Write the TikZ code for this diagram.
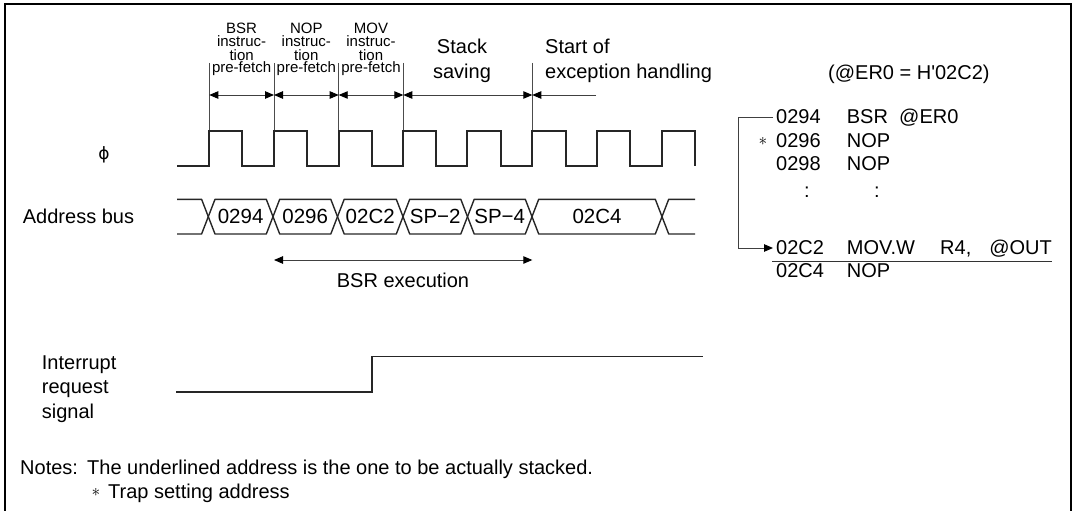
\documentclass[tikz,border=0pt]{standalone}
\usepackage{fontspec}
\setmainfont{Liberation Sans}
\newfontfamily\phifont{DejaVu Sans}
\usetikzlibrary{arrows.meta}
\begin{document}
\begin{tikzpicture}[x=1pt,y=-1pt,
  lbl/.style={inner sep=0pt,font=\fontsize{20}{24}\selectfont},
  sml/.style={inner sep=0pt,font=\fontsize{15}{13}\selectfont},
  astr/.style={inner sep=0pt,font=\fontsize{19}{20}\selectfont},
  wave/.style={line width=1.8pt,black!85,line join=miter},
  bus/.style={line width=1.4pt,black!85,line join=round},
  markline/.style={line width=0.9pt,black!70},
  dimarrow/.style={line width=0.9pt,black!75,{Triangle[length=9pt,width=7.5pt,color=black]}-{Triangle[length=9pt,width=7.5pt,color=black]}},
  onearrow/.style={line width=0.9pt,black!75,-{Triangle[length=9pt,width=7.5pt,color=black]}},
]
\useasboundingbox (0,0) rectangle (1074,511);
% frame
\draw[line width=2.2pt] (5,511) -- (5,4.3) -- (1070.8,4.3) -- (1070.8,511);

% marker coordinates
\coordinate (t1) at (209.3,63); \coordinate (b1) at (209.3,131);
\coordinate (t2) at (274,63);   \coordinate (b2) at (274,131);
\coordinate (t3) at (338.7,63); \coordinate (b3) at (338.7,131);
\coordinate (t4) at (403.3,63); \coordinate (b4) at (403.3,131);
\coordinate (t5) at (532.3,63); \coordinate (b5) at (532.3,131);
\foreach \i in {1,...,5} {\draw[markline] (t\i) -- (b\i);}
\coordinate (a1) at (209.3,95);
\coordinate (a2) at (274,95);
\coordinate (a3) at (338.7,95);
\coordinate (a4) at (403.3,95);
\coordinate (a5) at (532.3,95);
\coordinate (a6) at (596,95);
\draw[dimarrow] (a1) -- (a2);
\draw[dimarrow] (a2) -- (a3);
\draw[dimarrow] (a3) -- (a4);
\draw[dimarrow] (a4) -- (a5);
\draw[onearrow] (a6) -- (a5);

% small labels
\node[sml,anchor=base] (l1a) at (241.6,34) {BSR};
\node[sml,anchor=base] (l1b) at (241.6,47) {instruc-};
\node[sml,anchor=base] (l1c) at (241.6,60) {tion};
\node[sml,anchor=base] (l1d) at (241.6,73) {pre-fetch};
\node[sml,anchor=base] (l2a) at (306.3,34) {NOP};
\node[sml,anchor=base] (l2b) at (306.3,47) {instruc-};
\node[sml,anchor=base] (l2c) at (306.3,60) {tion};
\node[sml,anchor=base] (l2d) at (306.3,73) {pre-fetch};
\node[sml,anchor=base] (l3a) at (371,34) {MOV};
\node[sml,anchor=base] (l3b) at (371,47) {instruc-};
\node[sml,anchor=base] (l3c) at (371,60) {tion};
\node[sml,anchor=base] (l3d) at (371,73) {pre-fetch};
\node[lbl,anchor=base] (st1) at (462,54) {Stack};
\node[lbl,anchor=base] (st2) at (462,79) {saving};
\node[lbl,anchor=base west] (ex1) at (545,54) {Start of};
\node[lbl,anchor=base west] (ex2) at (545,79) {exception handling};
\node[lbl,anchor=base west] (er0) at (828,80) {(@ER0 = H\textquotesingle 02C2)};

% clock
\node[inner sep=0pt,font=\phifont\fontsize{17}{18}\selectfont,anchor=center] (phi) at (104,155) {ϕ};
\draw[wave] (177,165.7) -- (209.3,165.7) -- (209.3,131) -- (242.3,131) -- (242.3,165.7)
  -- (274,165.7) -- (274,131) -- (306.7,131) -- (306.7,165.7)
  -- (338.7,165.7) -- (338.7,131) -- (371.7,131) -- (371.7,165.7)
  -- (403.3,165.7) -- (403.3,131) -- (436,131) -- (436,165.7)
  -- (467.3,165.7) -- (467.3,131) -- (500.7,131) -- (500.7,165.7)
  -- (532.3,165.7) -- (532.3,131) -- (566,131) -- (566,165.7)
  -- (596.7,165.7) -- (596.7,131) -- (630,131) -- (630,165.7)
  -- (661.7,165.7) -- (661.7,131) -- (695,131) -- (695,165.7);

% address bus
\node[lbl,anchor=base west] (ab) at (22.7,223.5) {Address bus};
\def\bt{199.3}\def\bb{234}\def\bm{216.65}\def\h{6.7}
\draw[bus] (177,\bt) -- (208.3-\h,\bt) -- (208.3,\bm) -- (208.3-\h,\bb) -- (177,\bb);
\foreach \l/\r/\txt in {208.3/273/0294, 273/337.5/0296, 337.5/403/02C2, 403/467.5/SP−2, 467.5/532/SP−4, 532/662/02C4} {
  \draw[bus] (\l,\bm) -- (\l+\h,\bt) -- (\r-\h,\bt) -- (\r,\bm) -- (\r-\h,\bb) -- (\l+\h,\bb) -- cycle;
  \node[lbl,font=\fontsize{20.5}{24}\selectfont,anchor=center] at ({(\l+\r)/2},\bm) {\txt};
}
\draw[bus] (695,\bt) -- (662+\h,\bt) -- (662,\bm) -- (662+\h,\bb) -- (695,\bb);

% BSR execution
\coordinate (e1) at (274,260);
\coordinate (e2) at (532.3,260);
\draw[dimarrow] (e1) -- (e2);
\node[lbl,anchor=base] (bsrex) at (403,287) {BSR execution};

% interrupt
\node[lbl,anchor=base west] (ir1) at (41.7,369) {Interrupt};
\node[lbl,anchor=base west] (ir2) at (41.7,393.5) {request};
\node[lbl,anchor=base west] (ir3) at (41.7,418) {signal};
\draw[wave,line width=1.6pt] (176,391.7) -- (371.7,391.7) -- (371.7,356.5) -- (702.7,356.5);

% listing
\node[lbl,anchor=base west] (p1a) at (776,124) {0294};
\node[lbl,anchor=base west] (p1b) at (846.7,124) {BSR};
\node[lbl,anchor=base west] (p1c) at (899,124) {@ER0};
\node[astr,anchor=base] (ast) at (763,145.5) {$\ast$};
\node[lbl,anchor=base west] (p2a) at (776,147) {0296};
\node[lbl,anchor=base west] (p2b) at (846.7,147) {NOP};
\node[lbl,anchor=base west] (p3a) at (776,170) {0298};
\node[lbl,anchor=base west] (p3b) at (846.7,170) {NOP};
\node[lbl,anchor=base] (c1) at (807,197) {:};
\node[lbl,anchor=base] (c2) at (877,197) {:};
\node[lbl,anchor=base west] (p4a) at (776,254.5) {02C2};
\node[lbl,anchor=base west] (p4b) at (846.7,254.5) {MOV.W};
\node[lbl,anchor=base west] (p4c) at (940,254.5) {R4,};
\node[lbl,anchor=base east] (p4d) at (1052,254.5) {@OUT};
\node[lbl,anchor=base west] (p5a) at (776,277) {02C4};
\node[lbl,anchor=base west] (p5b) at (846.7,277) {NOP};
\coordinate (ul1) at (772,261);
\coordinate (ul2) at (1052,261);
\draw[line width=1pt,black!80] (ul1) -- (ul2);
\coordinate (br1) at (773,117.5);
\coordinate (br2) at (738,117.5);
\coordinate (br3) at (738,248);
\coordinate (br4) at (773,248);
\draw[onearrow,line width=1pt] (br1) -- (br2) -- (br3) -- (br4);

% notes
\node[lbl,anchor=base west] (n1) at (20,474) {Notes:};
\node[lbl,anchor=base west] (n2) at (87,474) {The underlined address is the one to be actually stacked.};
\node[astr,anchor=base] (n3) at (96,496.5) {$\ast$};
\node[lbl,anchor=base west] (n4) at (108,498) {Trap setting address};
\end{tikzpicture}
\end{document}
